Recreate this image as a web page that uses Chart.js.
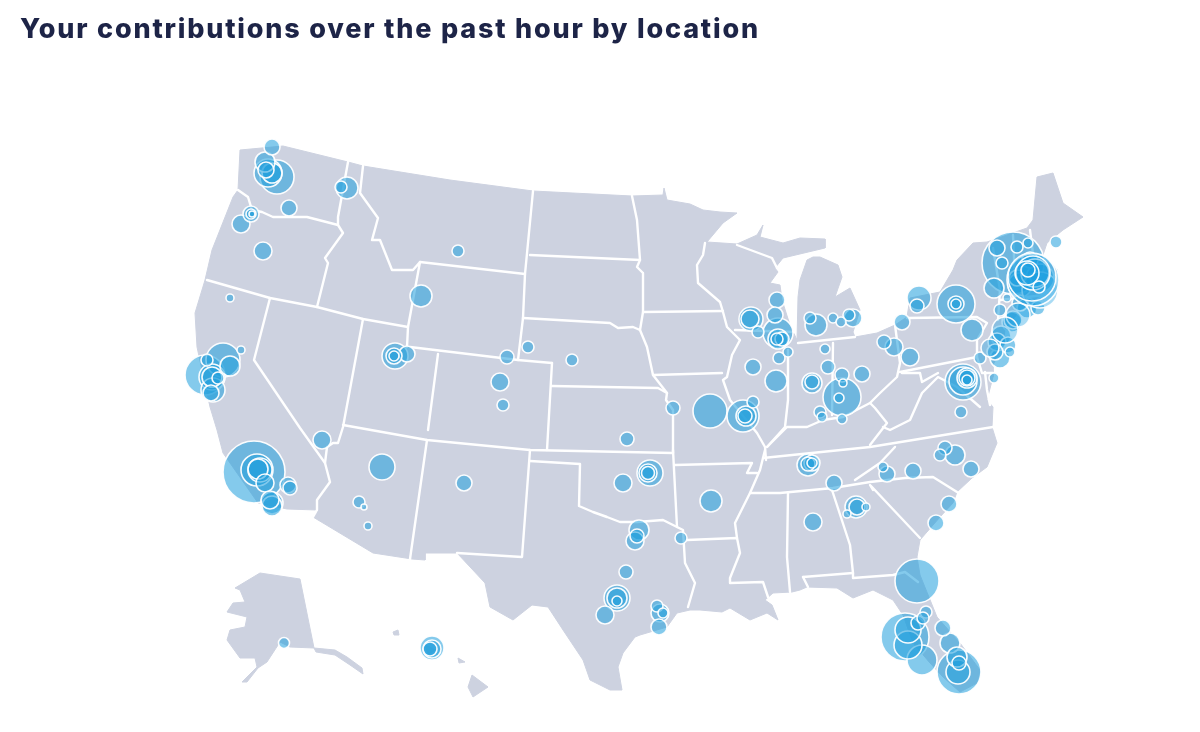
<!DOCTYPE html>
<html><head><meta charset="utf-8">
<script src="https://cdn.jsdelivr.net/npm/chart.js@4"></script>
<style>
html,body{margin:0;padding:0;background:#fff;overflow:hidden}
#wrap{position:relative;width:1200px;height:732px}
canvas{position:absolute;left:0;top:0}
h1{position:absolute;left:20px;top:12px;margin:0;font:800 27px/34px Inter,"Open Sans",sans-serif;color:#1d2447;letter-spacing:1.8px;white-space:nowrap}
</style></head><body>
<div id="wrap"><canvas id="c" width="1200" height="732"></canvas>
<h1>Your contributions over the past hour by location</h1></div>
<script>
const chartTitle = "Your contributions over the past hour by location";
// Map geometry, in map units
const landMain = [[240,150],[283,146],[348,162],[363,166],[450,180],[533,191],[632,196],[663,195],[664,188],[667,200],[690,204],[703,210],[720,212],[737,213],[723,223],[707,242],[737,244],[757,235],[763,225],[760,237],[783,243],[800,238],[825,239],[825,248],[783,258],[775,268],[778,272],[770,283],[780,285],[782,300],[790,325],[797,340],[798,297],[800,280],[807,260],[813,257],[820,257],[838,265],[842,277],[835,297],[850,288],[860,310],[853,332],[855,337],[877,333],[895,325],[907,317],[910,298],[940,292],[953,270],[957,260],[973,243],[987,242],[1027,228],[1033,220],[1037,177],[1053,173],[1063,203],[1083,217],[1063,230],[1047,243],[1042,258],[1058,270],[1045,282],[1040,296],[1020,310],[1005,330],[1003,345],[993,365],[993,377],[987,400],[993,407],[992,427],[997,443],[987,467],[972,478],[957,492],[953,503],[940,517],[920,540],[917,557],[920,575],[937,617],[960,643],[980,670],[977,683],[960,692],[943,677],[930,663],[913,643],[903,615],[893,600],[873,590],[853,598],[837,588],[807,587],[800,590],[792,592],[773,593],[765,600],[772,605],[778,620],[767,613],[750,620],[730,608],[722,612],[700,610],[690,610],[677,613],[667,627],[640,635],[635,637],[623,653],[618,667],[622,690],[610,690],[590,680],[583,660],[563,630],[548,607],[532,605],[513,620],[490,607],[485,583],[457,553],[425,553],[425,560],[412,559],[373,553],[313,517],[317,510],[287,509],[258,503],[223,453],[217,430],[210,407],[197,347],[195,313],[205,280],[212,250],[233,197],[238,190]];
const landAlaska = [[235,588],[260,573],[300,579],[314,648],[290,647],[280,642],[267,662],[258,668],[247,682],[242,682],[257,667],[255,658],[240,658],[227,640],[230,630],[245,627],[247,617],[227,612],[233,603],[245,602],[240,590]];
const landAleutianEast = [[314,648],[335,650],[347,657],[362,668],[363,674],[350,665],[335,655],[316,652]];
const landHawaiiBig = [[472,675],[488,687],[473,697],[468,687]];
const landMaui = [[458,658],[465,662],[459,663]];
const landOahu = [[425,645],[436,650],[428,654]];
const landKauai = [[393,632],[398,630],[399,635],[394,635]];
const borderLines = [
 [[238,190],[248,197],[252,210],[262,212],[273,217],[307,217],[338,225]],
 [[348,162],[338,217],[338,225],[343,233],[325,258],[328,263],[317,307]],
 [[207,280],[270,298],[317,307],[363,319],[408,327]],
 [[270,298],[254,360],[300,428],[325,463],[330,482],[317,500],[317,510],[313,517]],
 [[363,319],[343,427],[338,443],[333,443],[327,447],[325,463]],
 [[343,425],[427,440],[530,450],[673,453]],
 [[427,440],[410,559]],
 [[530,450],[522,557],[457,553]],
 [[530,461],[580,464],[579,506],[593,512],[607,517],[620,522],[637,522],[663,520],[677,527],[683,530],[685,563],[695,583],[688,607]],
 [[673,450],[677,527]],
 [[687,540],[737,538],[740,553],[730,578],[730,583],[763,582],[768,597]],
 [[765,450],[760,470],[750,493],[735,523],[737,538]],
 [[675,465],[752,463],[747,473],[757,473]],
 [[750,493],[780,493],[833,488],[870,482],[905,478],[933,477],[957,492]],
 [[873,490],[870,485],[872,487],[920,538]],
 [[895,447],[880,463],[855,480]],
 [[763,458],[870,447],[993,427]],
 [[788,493],[787,557],[790,592]],
 [[832,490],[850,545],[853,573],[853,578],[893,575],[905,572],[918,582]],
 [[803,577],[853,573]],[[803,577],[808,587]],
 [[653,375],[722,373]],
 [[552,386],[658,388],[667,393],[666,400],[673,410],[673,453]],
 [[552,363],[547,450]],
 [[410,347],[518,360],[552,363]],
 [[523,318],[518,360]],
 [[420,262],[525,274]],
 [[533,191],[525,274],[523,318]],
 [[530,255],[640,260]],
 [[523,318],[610,323],[618,328],[633,327],[640,330],[647,347],[653,375],[667,393]],
 [[632,196],[637,220],[640,260],[637,267],[643,273],[643,312],[640,330]],
 [[643,312],[723,311]],
 [[705,243],[703,255],[697,265],[698,283],[720,302],[723,312],[727,327],[740,340],[732,355],[727,377],[723,380],[730,400],[757,433],[765,447],[766,460]],
 [[735,330],[795,332]],
 [[737,245],[772,258],[777,268]],
 [[798,343],[855,337]],
 [[788,350],[788,400],[785,427],[767,447]],
 [[767,447],[787,427],[807,427],[823,420],[843,417],[870,403],[880,393],[897,377],[900,363],[895,325]],
 [[833,343],[832,415]],
 [[870,403],[875,408],[887,423],[870,445]],
 [[883,427],[890,430],[910,420],[922,393],[938,377],[957,387],[980,407]],
 [[900,372],[977,357],[982,373],[993,373]],
 [[902,373],[920,373],[922,382],[938,373]],
 [[907,318],[977,317],[987,323],[977,340],[977,357]],
 [[993,248],[1000,290],[998,320]],[[1013,235],[1015,280]],[[1030,230],[1035,270]],[[1000,300],[1045,295]],
 [[363,166],[360,193],[378,218],[372,240],[380,240],[392,270],[413,270],[420,262],[408,327],[407,347]],
 [[438,354],[428,430]],
 [[985,372],[987,390],[990,405]]
];
// Bubbles: x, y, radius
const westBubbles = [[272,147,8],[277,177,17],[268,173,14],[272,173,10],[265,162,10],[266,170,8],[347,188,11],[341,187,6],[289,208,8],[241,224,9],[251,214,8],[251,214,5],[252,214,3],[263,251,9],[230,298,4],[458,251,6],[421,296,11],[223,360,17],[230,366,10],[205,375,20],[212,377,13],[212,377,10],[218,378,6],[207,360,6],[211,393,8],[213,390,12],[241,350,4],[395,356,13],[407,354,8],[394,356,8],[394,356,5],[507,357,7],[528,347,6],[500,382,9],[503,405,6],[572,360,6]];
const southwestBubbles = [[254,472,31],[257,470,16],[258,469,10],[260,470,12],[265,483,9],[288,485,8],[290,488,7],[272,503,11],[272,506,10],[270,500,9],[322,440,9],[382,467,13],[464,483,8],[359,502,6],[364,507,3],[368,526,4],[284,643,5.5],[432,648,12],[432,649,9],[430,649,7]];
const midwestBubbles = [[673,408,7],[627,439,7],[710,411,17],[743,416,16],[746,416,10],[753,402,6],[745,416,7],[776,381,11],[753,367,8],[777,300,8],[751,319,12],[750,319,9],[758,332,6],[775,315,8],[779,358,6],[788,352,5],[778,333,15],[778,339,10],[777,339,6],[782,339,7],[810,318,6],[816,325,11],[833,318,5],[841,322,5],[853,318,9],[849,315,6],[825,349,5],[828,367,7],[812,383,10],[812,382,7],[842,397,19],[839,398,5],[842,375,7],[843,383,4],[862,374,8],[820,412,6],[822,417,5],[842,419,5]];
const northeastBubbles = [[919,298,12],[917,306,7],[956,304,19],[956,304,8],[956,304,5],[972,330,11],[902,322,8],[884,342,7],[894,347,9],[910,357,9],[963,382,18],[963,381,14],[967,378,10],[967,378,8],[967,380,5],[961,412,6],[997,342,9],[1000,358,10],[980,358,6],[1010,352,5],[994,378,5],[1000,310,6],[1020,303,8],[1007,298,4],[1013,320,9],[1013,263,31],[997,248,8],[1002,263,6],[1017,247,6],[1028,243,5],[1056,242,6],[994,288,10],[1030,260,8],[1017,278,8],[1038,308,7],[1027,308,10],[1012,322,10],[1001,336,10],[1008,345,8],[995,352,8],[1040,278,14],[1020,285,12]];
const southBubbles = [[650,473,13],[648,473,6.5],[648,473,9],[623,483,9],[711,501,11],[681,538,6],[639,530,10],[635,541,9],[637,536,7],[626,572,7],[617,598,13],[617,598,10],[617,601,5],[605,615,9],[657,606,6],[660,613,9],[663,613,5],[659,627,8],[808,465,11],[812,463,8],[812,463,5],[808,464,7],[834,483,8],[813,522,9],[856,507,11],[857,507,8],[847,514,4],[866,507,4],[883,467,5],[887,474,8],[913,471,8],[940,455,6],[945,448,7],[955,455,10],[971,469,8],[949,504,8],[936,523,8],[917,581,22],[926,612,6],[918,623,7],[923,618,6],[905,637,24],[908,630,13],[908,645,14],[922,660,15],[943,628,8],[950,643,10],[957,657,10],[959,672,22],[958,672,12],[959,663,7]];
// Bubbles that sit over their neighbours, in drawing order
const topBubbles = [[1018,315,12],[1005,330,13],[990,348,9],[1040,290,18],[1033,280,26],[1032,277,24],[1035,273,14],[1033,273,17],[1027,273,12],[1028,270,7],[1039,287,6]];

const toPts = a => a.map(p => ({x:p[0], y:p[1]}));
const landColor = '#cdd2e0';
const land = [landMain, landAlaska, landAleutianEast, landHawaiiBig, landMaui, landOahu, landKauai].map(a => ({
  type:'scatter', data:toPts(a.concat([a[0]])), showLine:true, fill:'shape', backgroundColor:landColor,
  borderColor:landColor, borderWidth:1, pointRadius:0, tension:0, order:3
}));
const borders = borderLines.map(a => ({
  type:'scatter', data:toPts(a), showLine:true, fill:false, borderColor:'#ffffff',
  borderWidth:2.4, pointRadius:0, tension:0, borderJoinStyle:'round', borderCapStyle:'round', order:2
}));
const allBubbles = [...westBubbles, ...southwestBubbles, ...midwestBubbles, ...northeastBubbles, ...southBubbles].sort((a,b)=>b[2]-a[2]);
const bubbleStyle = {
  type:'bubble', backgroundColor:'rgba(35,160,222,0.56)', borderColor:'rgba(255,255,255,0.95)', borderWidth:1.6, clip:false
};
const bubbles = {...bubbleStyle, data:allBubbles.map(p => ({x:p[0], y:p[1], r:p[2]})), order:1};
const bubblesTop = {...bubbleStyle, data:topBubbles.map(p => ({x:p[0], y:p[1], r:p[2]})), backgroundColor:'rgba(30,160,225,0.38)', order:0};
new Chart(document.getElementById('c'), {
  type:'bubble',
  data:{datasets:[...land, ...borders, bubbles, bubblesTop]},
  options:{
    responsive:false, animation:false, devicePixelRatio:1,
    layout:{padding:0, autoPadding:false},
    plugins:{legend:{display:false}, tooltip:{enabled:false}, title:{display:false}},
    scales:{
      x:{type:'linear', display:false, min:0, max:1200},
      y:{type:'linear', display:false, min:0, max:732, reverse:true}
    }
  }
});
</script>
</body></html>
